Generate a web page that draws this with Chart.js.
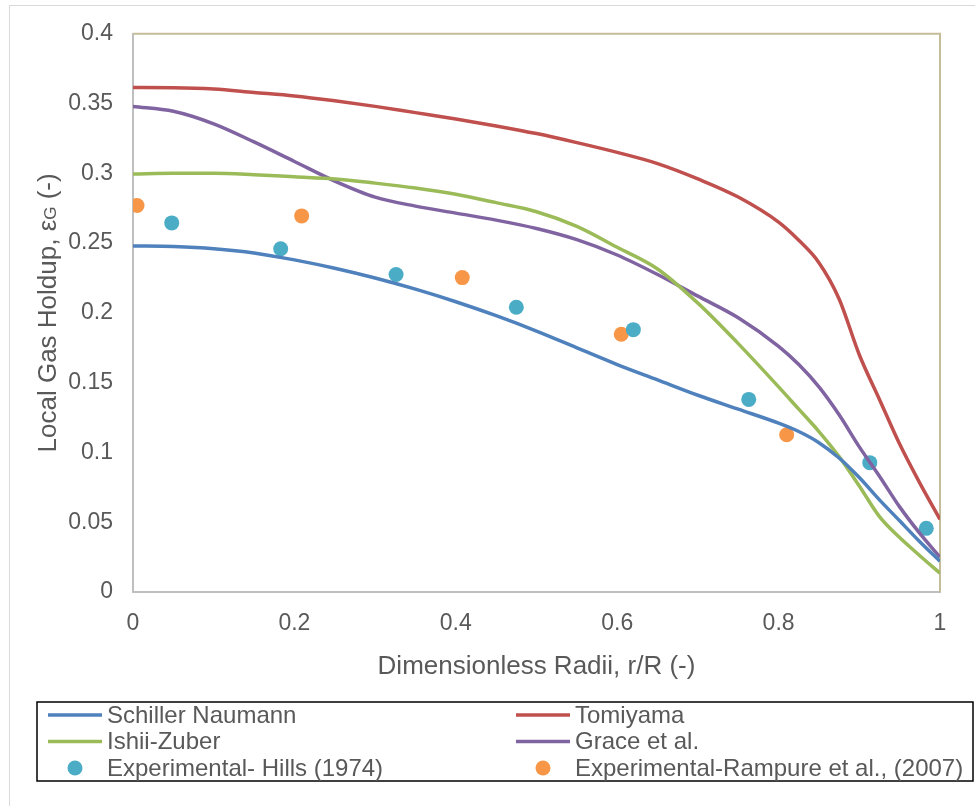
<!DOCTYPE html>
<html>
<head>
<meta charset="utf-8">
<script src="https://cdn.jsdelivr.net/npm/chart.js@4/dist/chart.umd.min.js"></script>
<style>
  html, body { margin: 0; padding: 0; background: #fff; }
  #frame { position: absolute; left: 9px; top: 5px; width: 1000px; height: 900px;
           border-left: 1px solid #d9d9d9; border-top: 1px solid #d9d9d9; }
  #wrap { position: absolute; left: 0; top: 0; width: 975px; height: 806px; }
</style>
</head>
<body>
<div id="frame"></div>
<div id="wrap"><canvas id="grafico-holdup"></canvas></div>
<script>
(function() {

	// radial position r/R
	var radii = [0, 0.05, 0.1, 0.15, 0.2, 0.25, 0.3, 0.35, 0.4, 0.45, 0.5, 0.55, 0.6,
		0.65, 0.7, 0.75, 0.8, 0.825, 0.85, 0.875, 0.9, 0.925, 0.95, 0.975, 1];

	// simulated gas holdup, one value per radius above
	var schillerNaumann = [0.248, 0.2475, 0.246, 0.243, 0.238, 0.232, 0.225, 0.217, 0.208, 0.198,
		0.187, 0.175, 0.163, 0.152, 0.141, 0.131, 0.121, 0.115, 0.107, 0.096, 0.082, 0.066,
		0.051, 0.036, 0.022];
	var tomiyama = [0.3615, 0.3614, 0.3605, 0.358, 0.3555, 0.352, 0.348, 0.3435, 0.339, 0.334,
		0.3285, 0.322, 0.315, 0.307, 0.296, 0.283, 0.265, 0.252, 0.236, 0.21, 0.17, 0.138,
		0.106, 0.078, 0.052];
	var ishiiZuber = [0.2995, 0.300, 0.300, 0.299, 0.2975, 0.296, 0.293, 0.2895, 0.285, 0.279,
		0.2725, 0.262, 0.247, 0.2315, 0.207, 0.178, 0.147, 0.131, 0.115, 0.097, 0.076, 0.054,
		0.039, 0.026, 0.0135];
	var grace = [0.348, 0.3445, 0.3355, 0.3225, 0.3085, 0.2945, 0.283, 0.2765, 0.2715, 0.2665,
		0.2605, 0.2525, 0.2415, 0.2275, 0.212, 0.1965, 0.176, 0.163, 0.147, 0.127, 0.104, 0.083,
		0.061, 0.042, 0.025];

	// experimental data
	var hillsR = [0.048, 0.183, 0.326, 0.475, 0.620, 0.763, 0.913, 0.983];
	var hillsHoldup = [0.2645, 0.246, 0.2275, 0.204, 0.188, 0.138, 0.0927, 0.0456];
	var rampureR = [0.005, 0.209, 0.408, 0.605, 0.810];
	var rampureHoldup = [0.277, 0.2695, 0.2253, 0.1847, 0.1127];

	var xTicks = [0, 0.2, 0.4, 0.6, 0.8, 1];
	var yTicks = [0, 0.05, 0.1, 0.15, 0.2, 0.25, 0.3, 0.35, 0.4];

	var familia = '"Liberation Sans", Arial, sans-serif';

	function pares(xs, ys) {
		return xs.map(function(x, i) { return { x: x, y: ys[i] }; });
	}

	function curva(label, ys, cor) {
		return {
			label: label,
			data: pares(radii, ys),
			showLine: true,
			borderColor: cor,
			backgroundColor: cor,
			borderWidth: 3.5,
			pointRadius: 0,
			cubicInterpolationMode: 'monotone',
			tipo: 'linha'
		};
	}

	function pontos(label, xs, ys, cor) {
		return {
			label: label,
			data: pares(xs, ys),
			showLine: false,
			borderColor: cor,
			backgroundColor: cor,
			pointRadius: 7.5,
			pointBorderWidth: 0,
			tipo: 'ponto'
		};
	}

	var datasets = [
		curva('Schiller Naumann', schillerNaumann, '#4f81bd'),
		curva('Tomiyama', tomiyama, '#c0504d'),
		curva('Ishii-Zuber', ishiiZuber, '#9bbb59'),
		curva('Grace et al.', grace, '#8064a2'),
		pontos('Experimental- Hills (1974)', hillsR, hillsHoldup, '#4bacc6'),
		pontos('Experimental-Rampure et al., (2007)', rampureR, rampureHoldup, '#f79646')
	];

	// olive frame on top/right of the plot area
	var molduraPlugin = {
		id: 'moldura',
		beforeDatasetsDraw: function(chart) {
			var a = chart.chartArea, ctx = chart.ctx;
			ctx.save();
			ctx.strokeStyle = '#c4bd97';
			ctx.lineWidth = 2;
			ctx.beginPath();
			ctx.moveTo(a.left, a.top);
			ctx.lineTo(a.right, a.top);
			ctx.lineTo(a.right, a.bottom);
			ctx.stroke();
			ctx.restore();
		}
	};

	// vertical y title with the G as subscript
	var tituloYPlugin = {
		id: 'tituloY',
		afterDraw: function(chart) {
			var a = chart.chartArea, ctx = chart.ctx;
			var partes = [
				{ t: 'Local Gas Holdup, ε', s: 26, dy: 0 },
				{ t: 'G', s: 17, dy: 0 },
				{ t: ' (-)', s: 26, dy: 0 }
			];
			ctx.save();
			var total = 0;
			partes.forEach(function(p) {
				ctx.font = p.s + 'px ' + familia;
				p.w = ctx.measureText(p.t).width;
				total += p.w;
			});
			ctx.translate(47, (a.top + a.bottom) / 2);
			ctx.rotate(-Math.PI / 2);
			ctx.fillStyle = '#595959';
			ctx.textBaseline = 'alphabetic';
			var x = -total / 2;
			partes.forEach(function(p) {
				ctx.font = p.s + 'px ' + familia;
				ctx.fillText(p.t, x, 9);
				x += p.w;
			});
			ctx.restore();
		}
	};

	// two-column boxed legend under the chart
	var legendaPlugin = {
		id: 'legendaCaixa',
		afterDraw: function(chart) {
			var ctx = chart.ctx;
			var box = { left: 37, top: 702, right: 973, bottom: 781 };
			var colunas = [48, 516];
			var linhas = [715, 741.5, 768];
			ctx.save();
			ctx.strokeStyle = '#000';
			ctx.lineWidth = 1.5;
			ctx.strokeRect(box.left, box.top, box.right - box.left, box.bottom - box.top);
			ctx.font = '24px ' + familia;
			ctx.textBaseline = 'middle';
			chart.data.datasets.forEach(function(ds, i) {
				var x = colunas[i % 2], y = linhas[Math.floor(i / 2)];
				if (ds.tipo === 'linha') {
					ctx.strokeStyle = ds.borderColor;
					ctx.lineWidth = 3.5;
					ctx.beginPath();
					ctx.moveTo(x, y);
					ctx.lineTo(x + 54, y);
					ctx.stroke();
				} else {
					ctx.fillStyle = ds.backgroundColor;
					ctx.beginPath();
					ctx.arc(x + 27, y, 7.5, 0, Math.PI * 2);
					ctx.fill();
				}
				ctx.fillStyle = '#595959';
				ctx.fillText(ds.label, x + 59, y + 1);
			});
			ctx.restore();
		}
	};

	var fonteTick = { family: familia, size: 23 };
	var fonteTitulo = { family: familia, size: 26 };

	var ctx = document.getElementById('grafico-holdup');
	new Chart(ctx, {
		type: 'scatter',
		data: { datasets: datasets },
		plugins: [molduraPlugin, tituloYPlugin, legendaPlugin],
		options: {
			responsive: true,
			maintainAspectRatio: false,
			animation: false,
			layout: { padding: { left: 33, top: 31, right: 35, bottom: 124 } },
			plugins: {
				legend: { display: false },
				tooltip: { enabled: false }
			},
			scales: {
				x: {
					type: 'linear',
					min: 0,
					max: 1,
					afterBuildTicks: function(axis) {
						axis.ticks = xTicks.map(function(v) { return { value: v }; });
					},
					afterFit: function(axis) { axis.height = 90; },
					grid: { display: false, drawTicks: false },
					border: { display: true, color: '#bfbfbf', width: 2 },
					ticks: {
						color: '#595959',
						font: fonteTick,
						padding: 18,
						maxRotation: 0,
						callback: function(v) { return String(v); }
					},
					title: {
						display: true,
						text: 'Dimensionless Radii, r/R (-)',
						color: '#595959',
						font: fonteTitulo,
						padding: 0
					}
				},
				y: {
					type: 'linear',
					min: 0,
					max: 0.4,
					afterBuildTicks: function(axis) {
						axis.ticks = yTicks.map(function(v) { return { value: v }; });
					},
					afterFit: function(axis) { axis.width = 100; },
					grid: { display: false, drawTicks: false },
					border: { display: true, color: '#bfbfbf', width: 2 },
					ticks: {
						color: '#595959',
						font: fonteTick,
						padding: 20,
						callback: function(v) { return String(v); }
					}
				}
			}
		}
	});
})();
</script>
</body>
</html>
